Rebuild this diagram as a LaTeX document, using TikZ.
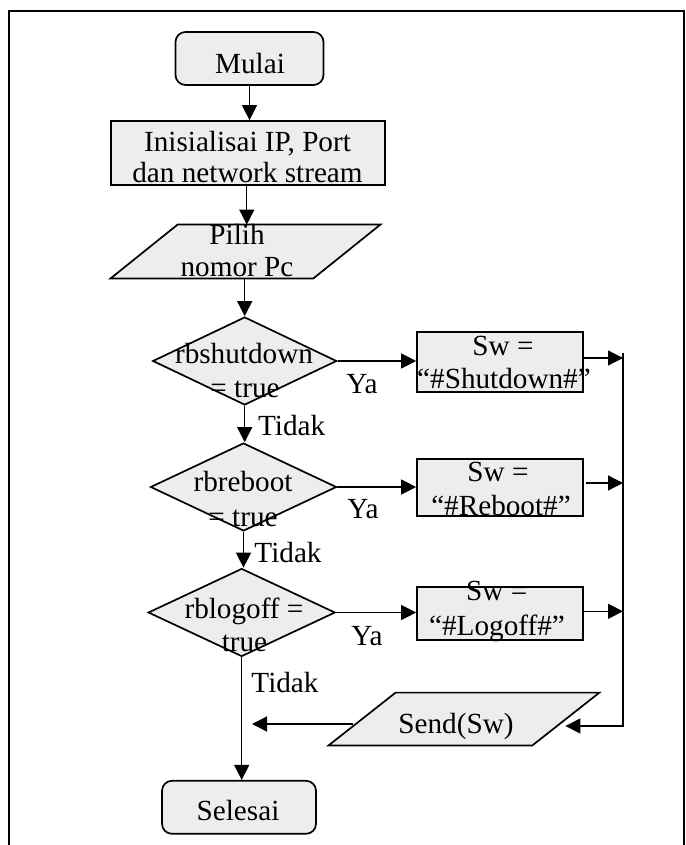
\documentclass[tikz,border=0pt]{standalone}
\usepackage{fontspec}
\setmainfont{Liberation Serif}
\usetikzlibrary{shapes.geometric,arrows.meta,calc}
\newcommand\drawpara[2]{\draw[shapebox] (#1.south west) -- ([xshift=#2]#1.north west) -- (#1.north east) -- ([xshift=-#2]#1.south east) -- cycle;}
\begin{document}
\begin{tikzpicture}[x=0.5pt,y=-0.5pt,
  every node/.style={font=\fontsize{14.6}{16}\selectfont},
  shapebox/.style={draw, line width=0.85pt, fill=black!7, inner sep=0pt},
  termbox/.style={shapebox, rounded corners=5pt},
  procbox/.style={shapebox},
  iobase/.style={inner sep=0pt, draw=none},
  decbox/.style={shapebox, diamond},
  arr/.style={line width=0.65pt, -{Triangle[length=7.5pt,width=7.5pt]}},
  txt/.style={anchor=base, inner sep=0pt}]
\useasboundingbox (0,0) rectangle (685,845);
\draw[line width=1pt] (9.3,10.7) rectangle (683.5,880);

% shapes
\node[termbox, minimum width=74pt, minimum height=26.5pt] (mulai) at (249.5,58.5) {};
\node[procbox, minimum width=137pt, minimum height=32pt] (init) at (248,153) {};
\node[iobase, minimum width=134.5pt, minimum height=26.5pt] (pilih) at (245.5,251.5) {};
\drawpara{pilih}{33.5pt}
\node[decbox, minimum width=92pt, minimum height=44pt] (d1) at (244.7,361) {};
\node[decbox, minimum width=93pt, minimum height=44pt] (d2) at (243.5,487) {};
\node[decbox, minimum width=93.5pt, minimum height=44pt] (d3) at (241.7,612.5) {};
\node[procbox, minimum width=83pt, minimum height=30pt] (shut) at (500,362) {};
\node[procbox, minimum width=83pt, minimum height=28.5pt] (reboot) at (500,487.5) {};
\node[procbox, minimum width=83pt, minimum height=26.5pt] (logoff) at (500,613.3) {};
\node[iobase, minimum width=135pt, minimum height=26pt] (send) at (464,719) {};
\drawpara{send}{33.5pt}
\node[termbox, minimum width=77pt, minimum height=26.5pt] (selesai) at (239,807.3) {};

% texts
\node[txt] (tmulai) at (250,74) {Mulai};
\node[txt] (tinit1) at (247.5,152) {Inisialisai IP, Port};
\node[txt] (tinit2) at (247.5,183) {dan network stream};
\node[txt] (tpilih1) at (237,244) {Pilih};
\node[txt] (tpilih2) at (237,277) {nomor Pc};
\node[txt] (td11) at (244,363) {rbshutdown};
\node[txt] (td12) at (245,397) {= true};
\node[txt] (td21) at (243,491.7) {rbreboot};
\node[txt] (td22) at (243,526.7) {= true};
\node[txt] (td31) at (244,618) {rblogoff =};
\node[txt] (td32) at (244.5,651.7) {true};
\node[txt] (tshut1) at (503,355) {Sw =};
\node[txt] (tshut2) at (504,388) {“\#Shutdown\#”};
\node[txt] (treb1) at (498,481.7) {Sw =};
\node[txt] (treb2) at (501,515) {“\#Reboot\#”};
\node[txt] (tlog1) at (496.7,600) {Sw =};
\node[txt] (tlog2) at (497,635) {“\#Logoff\#”};
\node[txt] (tsend) at (456,733) {Send(Sw)};
\node[txt] (tselesai) at (238,820) {Selesai};
\node[txt] (ya1) at (362,393.3) {Ya};
\node[txt] (ya2) at (363,518.3) {Ya};
\node[txt] (ya3) at (367,645) {Ya};
\node[txt] (tidak1) at (291.7,435) {Tidak};
\node[txt] (tidak2) at (288,562.3) {Tidak};
\node[txt] (tidak3) at (285,692.7) {Tidak};

% connectors
\draw[arr] (mulai.south) -- (mulai.south |- init.north);
\draw[arr] ([xshift=-0.6pt]init.south) -- ([xshift=-0.6pt]init.south |- pilih.north);
\draw[arr] (pilih.south -| d1.north) -- (d1.north);
\draw[arr] (d1.east) -- (d1.east -| shut.west);
\draw[arr] (d1.south) -- (d1.south |- d2.north);
\draw[arr] (d2.east) -- (d2.east -| reboot.west);
\draw[arr] (d2.south) -- (d2.south |- d3.north);
\draw[arr] (d3.east) -- (d3.east -| logoff.west);
\draw[arr] (d3.south) -- (d3.south |- selesai.north);

\coordinate (bt) at (623,353);
\coordinate (bb) at (623,726);
\coordinate (sl) at (252,724);
\draw[arr] ([yshift=2pt]shut.east) -- ([yshift=2pt]shut.east -| bt);
\draw[arr] ([yshift=2.25pt,xshift=1pt]reboot.east) -- ([yshift=2.25pt]reboot.east -| bt);
\draw[arr] ([yshift=1pt]logoff.east) -- ([yshift=1pt]logoff.east -| bt);
\draw[arr] (bt) -- (bb) -- ([xshift=-17pt]send.east |- bb);
\draw[arr] ([xshift=12pt]send.west |- sl) -- (sl);
\end{tikzpicture}
\end{document}
